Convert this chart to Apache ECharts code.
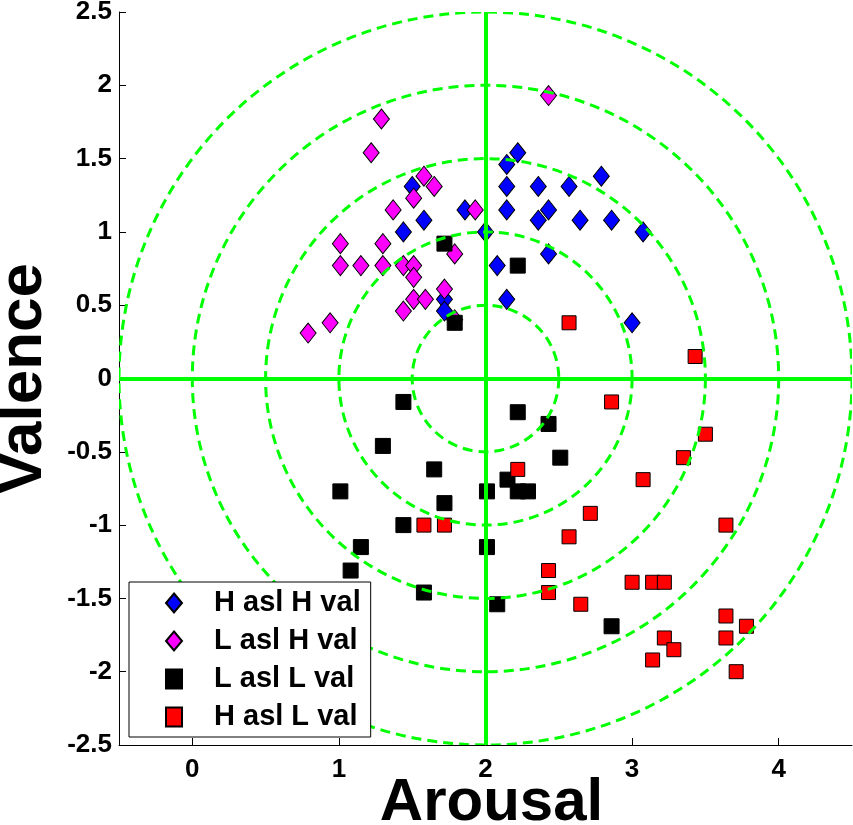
<!DOCTYPE html>
<html>
<head>
<meta charset="utf-8">
<script src="https://cdn.jsdelivr.net/npm/echarts@6/dist/echarts.min.js"></script>
<style>
html,body{margin:0;padding:0;background:#fff;}
#chart{width:853px;height:825px;}
</style>
</head>
<body>
<div id="chart"></div>
<script>
const seriesNames = ['H asl H val', 'L asl H val', 'L asl L val', 'H asl L val'];
const xTicks = [0, 1, 2, 3, 4];
const circleCenter = [2, 0];
const circleRadii = [0.5, 1, 1.5, 2, 2.5];

const hAslHVal = [
  [1.50,1.31],[1.86,1.15],[1.58,1.08],[1.44,1.00],[2.00,1.00],[1.72,0.54],[1.72,0.46],
  [2.22,1.54],[2.145,1.46],[2.145,1.31],[2.36,1.31],[2.57,1.31],[2.79,1.38],[2.145,1.15],
  [2.43,1.15],[2.36,1.08],[2.645,1.08],[2.86,1.08],[3.075,1.00],[2.43,0.85],[2.08,0.77],
  [2.145,0.54],[3.00,0.38]
];
const lAslHVal = [
  [1.29,1.77],[1.22,1.54],[1.58,1.38],[1.65,1.31],[1.51,1.23],[1.37,1.15],[1.93,1.15],
  [1.01,0.92],[1.30,0.92],[1.79,0.85],[1.01,0.77],[1.15,0.77],[1.30,0.77],[1.44,0.77],
  [1.51,0.77],[1.51,0.69],[1.72,0.61],[1.51,0.54],[1.59,0.54],[1.44,0.46],[0.94,0.38],
  [0.79,0.31],[1.79,0.40],[2.43,1.93]
];
const lAslLVal = [
  [1.72,0.92],[2.22,0.77],[1.79,0.38],[1.44,-0.16],[2.22,-0.23],[2.43,-0.31],[1.30,-0.46],
  [2.51,-0.54],[1.65,-0.62],[2.15,-0.69],[1.01,-0.77],[2.01,-0.77],[2.22,-0.77],[2.29,-0.77],
  [1.72,-0.85],[1.44,-1.00],[2.01,-1.15],[1.15,-1.15],[1.08,-1.31],[1.58,-1.46],[2.08,-1.54],
  [2.86,-1.69],[1.15,-1.46],[1.15,-1.62]
];
const hAslLVal = [
  [2.57,0.38],[3.43,0.15],[2.86,-0.16],[3.50,-0.38],[3.35,-0.54],[2.22,-0.62],[3.075,-0.69],
  [2.715,-0.92],[3.64,-1.00],[2.57,-1.08],[2.43,-1.31],[3.00,-1.39],[3.14,-1.39],[3.22,-1.39],
  [2.43,-1.46],[2.65,-1.54],[3.64,-1.62],[3.78,-1.69],[3.22,-1.77],[3.64,-1.77],[3.285,-1.85],
  [3.14,-1.92],[3.71,-2.00],[1.58,-1.00],[1.72,-1.00]
];

const FONT = "'Liberation Sans', Arial, Helvetica, sans-serif";
const chart = echarts.init(document.getElementById('chart'), null, {renderer: 'canvas'});

const circleData = circleRadii.map(r => [circleCenter[0], circleCenter[1], r]);

const option = {
  backgroundColor: '#fff',
  animation: false,
  grid: {left: 119, right: 1, top: 12, bottom: 80, containLabel: false, outerBoundsMode: 'none'},
  xAxis: {
    type: 'value', min: -0.5, max: 4.5,
    name: 'Arousal', nameLocation: 'middle', nameGap: 28, nameMoveOverlap: false,
    nameTextStyle: {fontFamily: FONT, fontWeight: 'bold', fontSize: 60, color: '#000', padding: [0, 0, 0, 12]},
    axisLine: {show: true, onZero: false, lineStyle: {color: '#000', width: 1}},
    axisTick: {show: true, inside: true, length: 7, customValues: xTicks, lineStyle: {color: '#000'}},
    axisLabel: {customValues: xTicks, fontFamily: FONT, fontWeight: 'bold', fontSize: 26, color: '#000', margin: 12},
    splitLine: {show: false}
  },
  yAxis: {
    type: 'value', min: -2.5, max: 2.5, interval: 0.5,
    name: 'Valence', nameLocation: 'middle', nameGap: 64, nameRotate: 90, nameMoveOverlap: false,
    nameTextStyle: {fontFamily: FONT, fontWeight: 'bold', fontSize: 62, color: '#000'},
    axisLine: {show: true, onZero: false, lineStyle: {color: '#000', width: 1}},
    axisTick: {show: true, inside: true, length: 7, lineStyle: {color: '#000'}},
    axisLabel: {fontFamily: FONT, fontWeight: 'bold', fontSize: 26, color: '#000', margin: 7},
    splitLine: {show: false}
  },
  legend: {
    orient: 'vertical', left: 129, top: 582,
    backgroundColor: '#fff', borderColor: '#000', borderWidth: 1, borderRadius: 0,
    padding: [6, 10, 5, 36], itemGap: 8, itemWidth: 16, itemHeight: 19,
    data: [
      {name: seriesNames[0], icon: 'diamond'},
      {name: seriesNames[1], icon: 'diamond'},
      {name: seriesNames[2], icon: 'rect'},
      {name: seriesNames[3], icon: 'rect'}
    ],
    textStyle: {fontFamily: FONT, fontWeight: 'bold', fontSize: 29, color: '#000', lineHeight: 30, padding: [0, 0, 0, 27]},
    z: 10
  },
  series: [
    {name: seriesNames[0], type: 'scatter', data: hAslHVal, symbol: 'diamond', symbolSize: [16, 20],
     itemStyle: {color: '#0000ff', borderColor: '#000', borderWidth: 1, opacity: 1}, z: 2},
    {name: seriesNames[1], type: 'scatter', data: lAslHVal, symbol: 'diamond', symbolSize: [16, 20],
     itemStyle: {color: '#ff00ff', borderColor: '#000', borderWidth: 1, opacity: 1}, z: 2},
    {name: seriesNames[2], type: 'scatter', data: lAslLVal, symbol: 'rect', symbolSize: 15,
     itemStyle: {color: '#000', borderColor: '#000', borderWidth: 1, opacity: 1}, z: 2},
    {name: seriesNames[3], type: 'scatter', data: hAslLVal, symbol: 'rect', symbolSize: 14,
     itemStyle: {color: '#ff0000', borderColor: '#000', borderWidth: 1, opacity: 1}, z: 2},
    {
      type: 'custom', data: circleData, z: 3, silent: true,
      renderItem: function (params, api) {
        const c = api.coord([api.value(0), api.value(1)]);
        const r = api.size([api.value(2), 0])[0];
        const cs = params.coordSys;
        return {
          type: 'group',
          clipPath: {type: 'rect', shape: {x: cs.x, y: cs.y, width: cs.width, height: cs.height}},
          children: [{
            type: 'circle', shape: {cx: c[0], cy: c[1], r: r},
            style: {fill: null, stroke: '#00ff00', lineWidth: 3, lineDash: [10, 6]}
          }]
        };
      },
      markLine: {
        silent: true, symbol: 'none', label: {show: false},
        lineStyle: {color: '#00ff00', width: 4, type: 'solid'},
        data: [{xAxis: circleCenter[0]}, {yAxis: circleCenter[1]}]
      }
    }
  ]
};
chart.setOption(option);
</script>
</body>
</html>
